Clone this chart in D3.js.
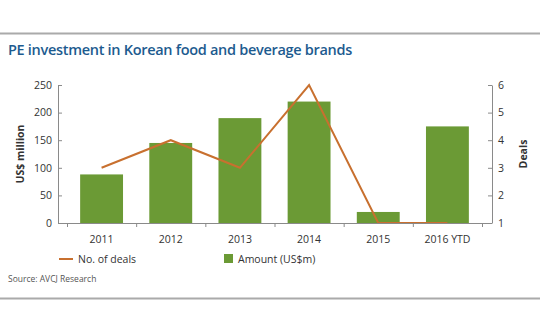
<!DOCTYPE html>
<html><head><meta charset="utf-8">
<script src="https://cdn.jsdelivr.net/npm/d3@7"></script>
<style>body{margin:0;background:#fff}svg{display:block;font-family:"Open Sans",sans-serif}</style>
</head><body>
<script>
const categories = ["2011","2012","2013","2014","2015","2016 YTD"];
const amounts = [88, 145, 190, 220, 20, 175];
const deals = [3, 4, 3, 6, 1, 1];
const leftTicks = [0,50,100,150,200,250];
const rightTicks = [1,2,3,4,5,6];

const W=540,H=334;
const svg=d3.select("body").append("svg").attr("width",W).attr("height",H);
const axisColor="#8a8a8a", textColor="#333";

svg.append("line").attr("x1",0).attr("x2",W).attr("y1",33.5).attr("y2",33.5).attr("stroke","#aaa").attr("stroke-width",2);
svg.append("line").attr("x1",0).attr("x2",W).attr("y1",298.5).attr("y2",298.5).attr("stroke","#aaa").attr("stroke-width",2);

svg.append("text").attr("x",8).attr("y",55).text("PE investment in Korean food and beverage brands")
  .attr("fill","#1d5b8f").attr("font-size",14.5).attr("font-weight",600).attr("letter-spacing",-0.3);

const x=d3.scaleBand().domain(categories).range([67,482]).paddingInner(0.38).paddingOuter(0.19);
const xb=d3.scaleBand().domain(categories).range([67,482]);
const y=d3.scaleLinear().domain([0,250]).range([223,85]);
const y2=d3.scaleLinear().domain([1,6]).range([223,85]);

// bars
svg.selectAll("rect.bar").data(amounts).join("rect").attr("class","bar")
  .attr("x",(d,i)=>x(categories[i])).attr("width",x.bandwidth())
  .attr("y",d=>y(d)).attr("height",d=>y(0)-y(d)).attr("fill","#6b9a35");

// line
const line=d3.line().x((d,i)=>xb(categories[i])+xb.bandwidth()/2).y(d=>y2(d));
svg.append("path").datum(deals).attr("d",line).attr("fill","none").attr("stroke","#c8702f").attr("stroke-width",2);

// axes
function styleAxis(g){g.selectAll("path,line").attr("stroke",axisColor);g.selectAll("text").attr("fill",textColor).attr("font-size",10.5).attr("font-family","'Open Sans',sans-serif");}
const ax=svg.append("g").attr("transform","translate(58,0)").call(d3.axisLeft(y).tickValues(leftTicks).tickSize(-4).tickSizeOuter(0).tickPadding(6));
styleAxis(ax);
const ax2=svg.append("g").attr("transform","translate(492,0)").call(d3.axisRight(y2).tickValues(rightTicks).tickFormat(d3.format("d")).tickSize(-4).tickSizeOuter(0).tickPadding(6));
styleAxis(ax2);
// x axis line
svg.append("line").attr("x1",58).attr("x2",492).attr("y1",223.5).attr("y2",223.5).attr("stroke",axisColor);
const tickXs=categories.map(c=>xb(c)).concat([xb.range()[1]]);
svg.selectAll("line.xt").data(tickXs).join("line").attr("class","xt")
  .attr("x1",d=>d+0.5).attr("x2",d=>d+0.5).attr("y1",223).attr("y2",227).attr("stroke",axisColor);
svg.selectAll("text.xl").data(categories).join("text").attr("class","xl")
  .attr("x",d=>xb(d)+xb.bandwidth()/2).attr("y",243).attr("text-anchor","middle")
  .attr("font-size",10.5).attr("fill",textColor).text(d=>d);

// axis titles
svg.append("text").attr("transform","translate(24,154) rotate(-90)").attr("text-anchor","middle")
  .attr("font-size",10.5).attr("font-weight",700).attr("fill",textColor).text("US$ million");
svg.append("text").attr("transform","translate(527,154) rotate(-90)").attr("text-anchor","middle")
  .attr("font-size",10.5).attr("font-weight",700).attr("fill",textColor).text("Deals");

// legend
svg.append("line").attr("x1",59).attr("x2",73).attr("y1",259).attr("y2",259).attr("stroke","#c8702f").attr("stroke-width",2);
svg.append("text").attr("x",78).attr("y",263).attr("font-size",10.5).attr("fill",textColor).text("No. of deals");
svg.append("rect").attr("x",224).attr("y",254).attr("width",9).attr("height",9).attr("fill","#6b9a35");
svg.append("text").attr("x",238).attr("y",263).attr("font-size",10.5).attr("fill",textColor).text("Amount (US$m)");

svg.append("text").attr("x",8).attr("y",282).attr("font-size",8.5).attr("fill","#555").text("Source: AVCJ Research");
</script>
</body></html>
